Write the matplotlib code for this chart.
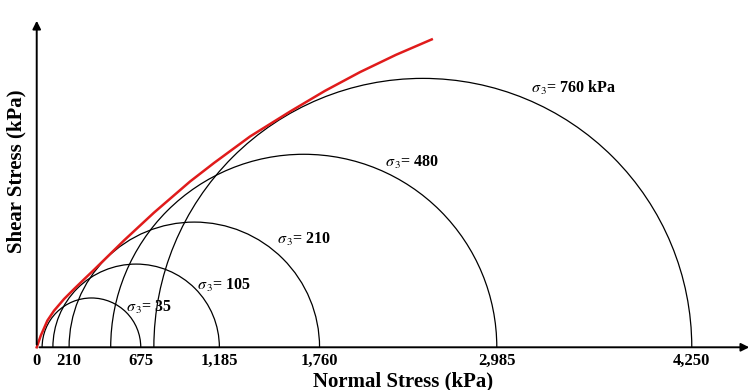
import matplotlib.pyplot as plt
from matplotlib.patches import Arc

plt.rcParams['font.family'] = ['Liberation Serif', 'DejaVu Serif']
plt.rcParams['mathtext.fontset'] = 'stix'

# Mohr circles: minor / major principal stress (kPa)
sigma3 = [35, 105, 210, 480, 760]
sigma1 = [675, 1185, 1835, 2985, 4250]
circle_labels = ["35", "105", "210", "480", "760 kPa"]

# failure envelope (normal stress, shear stress) in kPa
env_sigma = [0, 26, 69, 112, 177, 242, 307, 372, 567, 761, 995, 1150,
             1384, 1644, 1870, 2098, 2331, 2563]
env_tau = [0, 75, 173, 237, 313, 378, 441, 503, 694, 874, 1076, 1196,
           1368, 1530, 1664, 1786, 1898, 1998]

tick_pos = [0, 210, 675, 1185, 1835, 2985, 4250]
tick_text = ["0", "210", "675", "1,185", "1,760", "2,985", "4,250"]

fig = plt.figure(figsize=(7.54, 3.90), dpi=100)
ax = fig.add_axes([0.0487, 0.1095, 0.9487, 0.8444])
ax.set_xlim(0, 4641)
ax.set_ylim(0, 2137)

for s3, s1 in zip(sigma3, sigma1):
    c = (s1 + s3) / 2
    d = s1 - s3
    ax.add_patch(Arc((c, 0), d, d, theta1=0, theta2=180, color='black', lw=0.9))

ax.plot(env_sigma, env_tau, color='#e01b1b', lw=1.8, clip_on=False,
        solid_joinstyle='round')

# labels for the circles
label_xy = [(580, 260), (1040, 400), (1560, 700), (2260, 1200), (3210, 1680)]
for (lx, ly), txt in zip(label_xy, circle_labels):
    ax.text(lx, ly, r"$\sigma_{\,3}$" + "= " + txt, fontsize=11.5, fontweight='bold',
            va='center', ha='left')

# axes with arrows
for s in ax.spines.values():
    s.set_visible(False)
ax.annotate("", xy=(1.0, 0), xytext=(0, 0), xycoords='axes fraction',
            arrowprops=dict(arrowstyle="-|>", color='black', lw=1.4, mutation_scale=12))
ax.annotate("", xy=(0, 1.0), xytext=(0, 0), xycoords='axes fraction',
            arrowprops=dict(arrowstyle="-|>", color='black', lw=1.4, mutation_scale=12))

ax.set_xticks(tick_pos)
ax.set_xticklabels(tick_text, fontsize=12, fontweight='bold')
ax.tick_params(axis='x', length=0, pad=4)
ax.set_yticks([])

fig.text(403 / 754, 1 - 381 / 390, "Normal Stress (kPa)", fontsize=15,
         fontweight='bold', ha='center', va='center')
fig.text(16 / 754, 1 - 171 / 390, "Shear Stress (kPa)", fontsize=15,
         fontweight='bold', ha='center', va='center', rotation=90)

fig.savefig("out.png", dpi=100)
